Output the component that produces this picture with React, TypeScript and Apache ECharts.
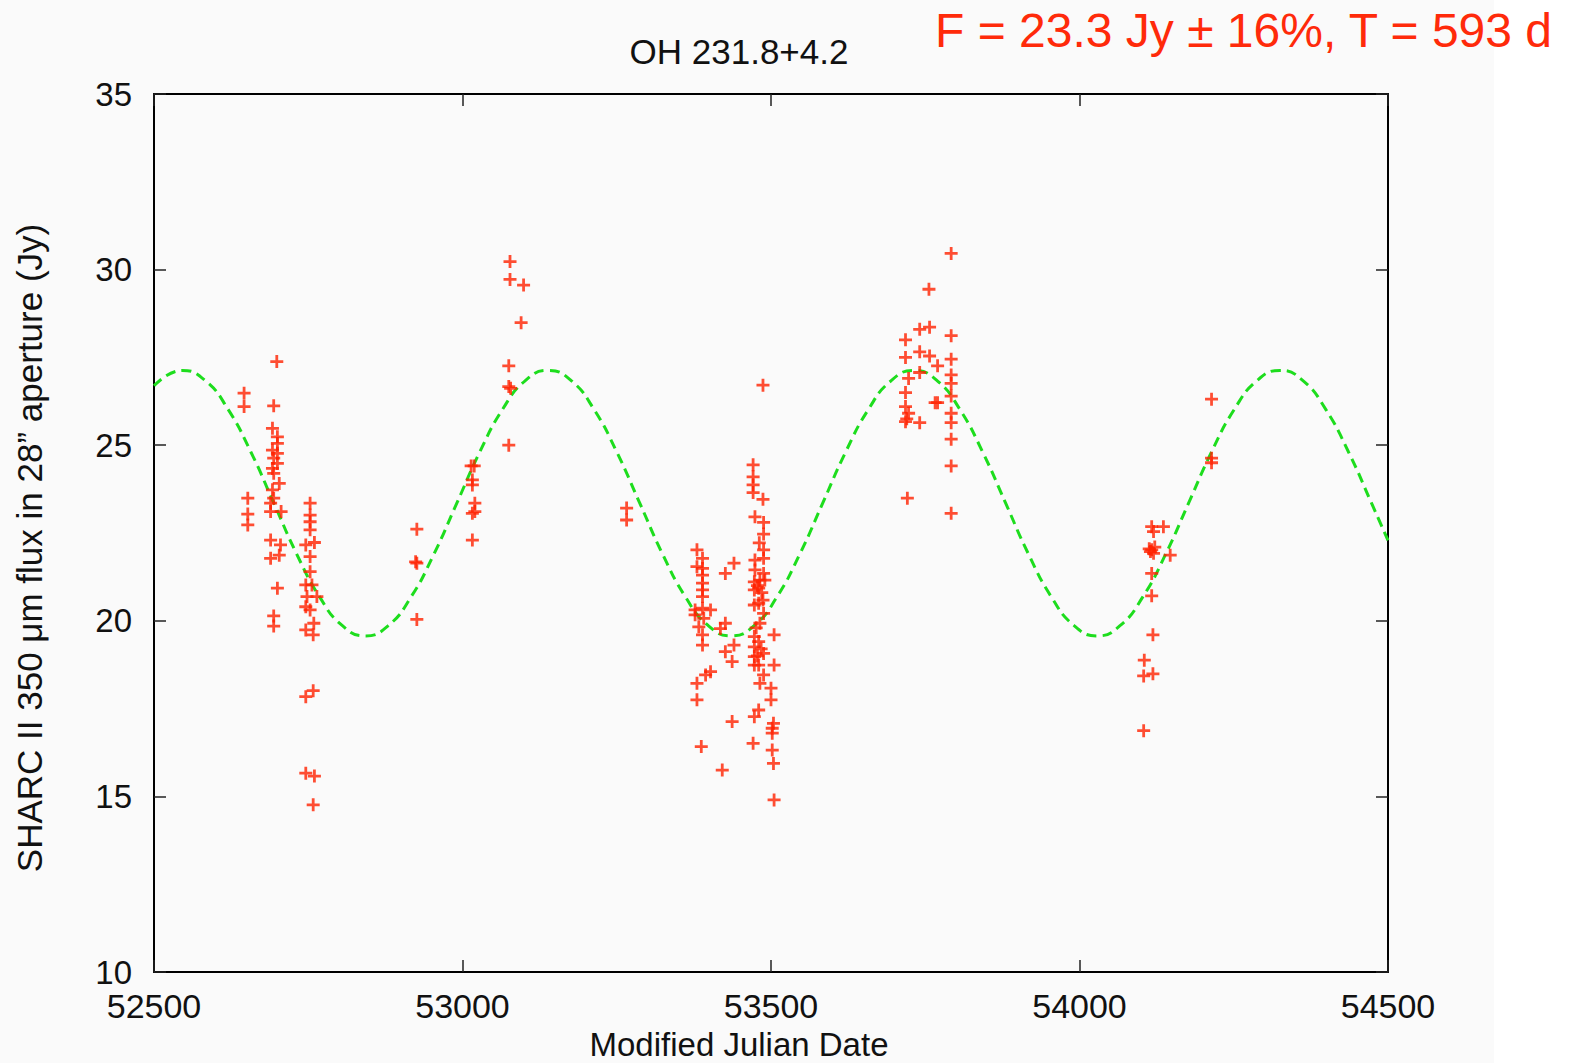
import React, { useEffect, useRef } from "react";
import * as echarts from "echarts";

// Observations: Modified Julian Date and flux (Jy)
const obsMjd: number[] = [
  52646, 52646, 52652, 52652, 52652,
  52699, 52694, 52692, 52700, 52700, 52692, 52700, 52694, 52700, 52692, 52694, 52703, 52692, 52694, 52689, 52706, 52689, 52689, 52705, 52689, 52703, 52700, 52694, 52694,
  52753, 52753, 52753, 52753, 52746, 52760, 52753, 52753, 52746, 52756, 52748, 52764, 52746, 52753, 52759, 52746, 52758, 52746, 52758, 52746, 52760, 52758,
  52926, 52926, 52924, 52926,
  53014, 53019, 53016, 53016, 53020, 53016, 53020, 53016,
  53077, 53077, 53099, 53095, 53075, 53075, 53078, 53075,
  53266, 53266,
  53380, 53389, 53380, 53389, 53389, 53389, 53389, 53389, 53377, 53389, 53402, 53377, 53391, 53383, 53389, 53389, 53402, 53394, 53380, 53380, 53387, 53421,
  53440, 53426, 53426, 53418, 53440, 53426, 53437, 53437,
  53487, 53471, 53471, 53471, 53471, 53487, 53474, 53488, 53488, 53481, 53488, 53488, 53474, 53474, 53488, 53482, 53490, 53473, 53480, 53473, 53487, 53480, 53473, 53488, 53482, 53473, 53480, 53473, 53488, 53473, 53480, 53473, 53488, 53482, 53500, 53500, 53480, 53473, 53504, 53502, 53502, 53471, 53502, 53504, 53505, 53505, 53505, 53478, 53485, 53476, 53484, 53478,
  53792, 53756, 53741, 53757, 53718, 53792, 53718, 53741, 53757, 53770, 53792, 53723, 53741, 53792, 53792, 53718, 53792, 53770, 53766, 53718, 53723, 53792, 53718, 53741, 53792, 53792, 53792, 53721, 53792, 53720,
  54214, 54214, 54214, 54117, 54136, 54120, 54117, 54120, 54115, 54147, 54117, 54117, 54119, 54105, 54104, 54119, 54104, 54122, 54113,
];
const obsFlux: number[] = [
  26.48, 26.1, 23.49, 23.04, 22.73,
  27.38, 26.12, 25.48, 25.24, 25.05, 24.86, 24.77, 24.63, 24.48, 24.34, 24.2, 23.91, 23.73, 23.49, 23.35, 23.11, 23.11, 22.3, 22.16, 21.78, 21.87, 20.93, 20.14, 19.85,
  23.35, 23.01, 22.82, 22.59, 22.16, 22.23, 21.83, 21.4, 21.02, 21.02, 20.69, 20.69, 20.4, 20.31, 19.93, 19.74, 19.6, 17.84, 18.01, 15.66, 15.58, 14.76,
  22.61, 21.64, 21.68, 20.04,
  24.41, 24.41, 24.01, 23.87, 23.35, 23.06, 23.11, 22.3,
  30.23, 29.72, 29.56, 28.49, 27.26, 26.67, 26.62, 25.0,
  23.21, 22.87,
  22.02, 21.78, 21.54, 21.49, 21.3, 21.07, 20.88, 20.69, 20.31, 20.36, 20.31, 20.17, 20.07, 19.83, 19.6, 19.31, 18.55, 18.46, 18.22, 17.75, 16.42, 15.75,
  21.64, 21.35, 19.93, 19.78, 19.31, 19.12, 18.84, 17.13,
  26.71, 24.44, 24.1, 23.87, 23.65, 23.46, 22.96, 22.8, 22.47, 22.22, 22.02, 21.78, 21.73, 21.45, 21.35, 21.16, 21.16, 21.11, 20.93, 20.88, 20.59, 20.5, 20.45, 20.21, 19.93, 19.55, 19.41, 19.26, 19.07, 18.98, 18.74, 18.74, 18.46, 18.22, 18.08, 17.75, 17.46, 17.27, 17.08, 16.94, 16.8, 16.51, 16.32, 15.94, 14.9, 19.6, 18.74, 21.0, 20.8, 19.8, 19.2, 19.0,
  30.46, 29.44, 28.3, 28.36, 28.0, 28.12, 27.5, 27.66, 27.54, 27.26, 27.45, 26.9, 27.07, 27.0, 26.76, 26.5, 26.4, 26.21, 26.21, 26.1, 25.91, 25.91, 25.67, 25.64, 25.64, 25.17, 24.41, 23.49, 23.06, 25.75,
  26.31, 24.63, 24.5, 22.68, 22.68, 22.54, 22.02, 21.92, 21.97, 21.87, 21.35, 20.71, 19.6, 18.88, 18.43, 18.49, 16.87, 22.1, 22.05,
];

// Dashed green fitted curve (peaks, troughs and points between)
const fitMjd: number[] = [
  52500, 52546.0, 52583.1, 52620.1, 52657.2, 52694.3, 52731.3, 52768.4, 52805.4,
  52842.5, 52879.6, 52916.6, 52953.7, 52990.8, 53027.8, 53064.9, 53101.9,
  53139.0, 53176.1, 53213.1, 53250.2, 53287.3, 53324.3, 53361.4, 53398.4,
  53435.5, 53472.6, 53509.6, 53546.7, 53583.8, 53620.8, 53657.9, 53694.9,
  53732.0, 53769.1, 53806.1, 53843.2, 53880.3, 53917.3, 53954.4, 53991.4,
  54028.5, 54065.6, 54102.6, 54139.7, 54176.8, 54213.8, 54250.9, 54287.9,
  54325.0, 54362.1, 54399.1, 54436.2, 54473.3, 54500,
];
const fitFlux: number[] = [
  26.69, 27.13, 26.84, 26.02, 24.8, 23.35, 21.9, 20.68, 19.86,
  19.57, 19.86, 20.68, 21.9, 23.35, 24.8, 26.02, 26.84,
  27.13, 26.84, 26.02, 24.8, 23.35, 21.9, 20.68, 19.86,
  19.57, 19.86, 20.68, 21.9, 23.35, 24.8, 26.02, 26.84,
  27.13, 26.84, 26.02, 24.8, 23.35, 21.9, 20.68, 19.86,
  19.57, 19.86, 20.68, 21.9, 23.35, 24.8, 26.02, 26.84,
  27.13, 26.84, 26.02, 24.8, 23.35, 22.29,
];

const xTicks = { min: 52500, max: 54500, interval: 500 };
const yTicks = { min: 10, max: 35, interval: 5 };

const TITLE = "OH 231.8+4.2";
const FIT_TEXT = "F = 23.3 Jy \u00b1 16%, T = 593 d";
const X_NAME = "Modified Julian Date";
const Y_NAME = "SHARC II 350 \u03bcm flux in 28\u201d aperture (Jy)";

const FONT = "'Liberation Sans', Arial, Helvetica, sans-serif";

const PLUS = "path://M5.5,0H8.5V5.5H14V8.5H8.5V14H5.5V8.5H0V5.5H5.5Z";

export default function App() {
  const ref = useRef<HTMLDivElement>(null);
  useEffect(() => {
    if (!ref.current) return;
    const chart = echarts.init(ref.current, undefined, { renderer: "svg" });
    const points = obsMjd.map((m, i) => [m, obsFlux[i]]);
    const fit = fitMjd.map((m, i) => [m, fitFlux[i]]);
    const axisLine = { show: true, lineStyle: { color: "#000", width: 2 } };
    const axisTick = { show: true, inside: true, length: 12, lineStyle: { color: "#222", width: 1.5 } };
    chart.setOption({
      animation: false,
      backgroundColor: "transparent",
      grid: { left: 154, right: 182, top: 94, bottom: 91, containLabel: false, outerBoundsMode: "none" },
      graphic: [
        {
          type: "text",
          x: 739,
          y: 51,
          style: { text: TITLE, fontSize: 35, fontFamily: FONT, fill: "#111", align: "center", verticalAlign: "middle" },
        },
        {
          type: "text",
          x: 1552,
          y: 30,
          style: { text: FIT_TEXT, fontSize: 48, fontFamily: FONT, fill: "#ff2a0a", align: "right", verticalAlign: "middle" },
        },
      ],
      xAxis: [
        {
          type: "value",
          ...xTicks,
          position: "bottom",
          axisLine,
          axisTick,
          splitLine: { show: false },
          axisLabel: { color: "#111", fontSize: 34, lineHeight: 34, fontFamily: FONT, margin: 17, formatter: (v: number) => String(v) },
          name: X_NAME,
          nameLocation: "middle",
          nameGap: 55,
          nameMoveOverlap: false,
          nameTextStyle: { color: "#111", fontSize: 33, fontFamily: FONT, lineHeight: 34, padding: [0, 64, 0, 0] },
        },
        {
          type: "value",
          ...xTicks,
          position: "top",
          axisLine,
          axisTick,
          splitLine: { show: false },
          axisLabel: { show: false },
        },
      ],
      yAxis: [
        {
          type: "value",
          ...yTicks,
          position: "left",
          axisLine,
          axisTick,
          splitLine: { show: false },
          axisLabel: { color: "#111", fontSize: 33, fontFamily: FONT, margin: 22 },
          name: Y_NAME,
          nameLocation: "middle",
          nameGap: 107,
          nameRotate: 90,
          nameMoveOverlap: false,
          nameTextStyle: { color: "#111", fontSize: 35, fontFamily: FONT, padding: [0, 30, 0, 0] },
        },
        {
          type: "value",
          ...yTicks,
          position: "right",
          axisLine,
          axisTick,
          splitLine: { show: false },
          axisLabel: { show: false },
        },
      ],
      series: [
        {
          type: "line",
          data: fit,
          smooth: 0.5,
          symbol: "none",
          lineStyle: { color: "#1ddd1d", width: 3, type: [10, 6] },
          z: 2,
        },
        {
          type: "scatter",
          data: points,
          symbol: PLUS,
          symbolSize: 13,
          itemStyle: { color: "#ff2200" },
          z: 3,
        },
      ],
    });
    return () => chart.dispose();
  }, []);
  return (
    <div
      ref={ref}
      style={{
        position: "fixed",
        left: 0,
        top: 0,
        width: 1570,
        height: 1063,
        background: "linear-gradient(to right, #fafafa 1494px, #ffffff 1494px)",
      }}
    />
  );
}
